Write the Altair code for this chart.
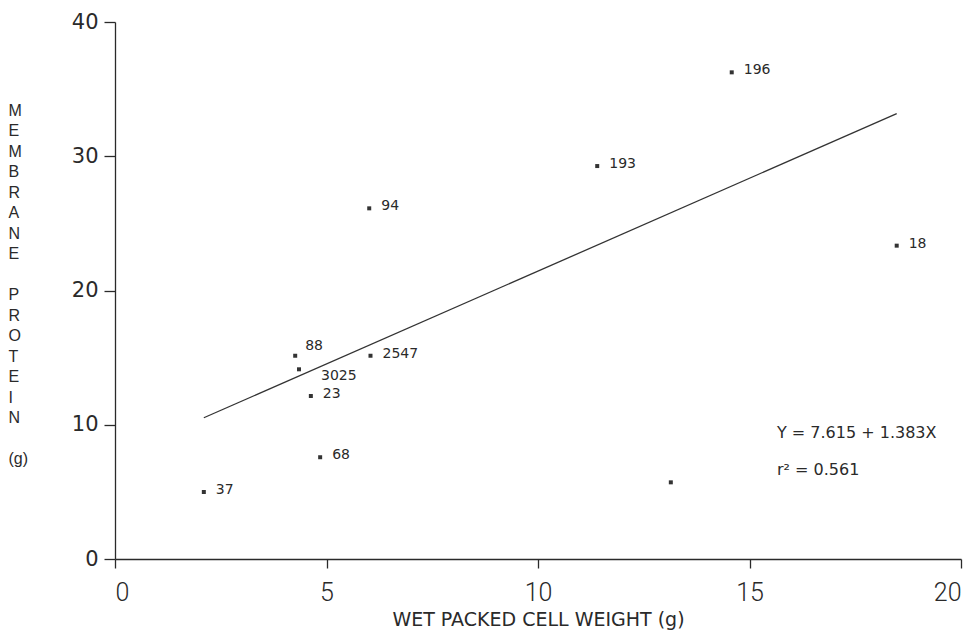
import altair as alt
import pandas as pd

# ---- data ----
strain_labels = ["37", "88", "3025", "23", "68", "2547", "94", "193", "196", "18", ""]
cell_weight = [2.10, 4.26, 4.35, 4.63, 4.85, 6.04, 6.01, 11.40, 14.58, 18.48, 13.14]
membrane_protein = [4.99, 15.14, 14.13, 12.14, 7.58, 15.14, 26.12, 29.27, 36.25, 23.34, 5.71]

x_ticks = [0, 5, 10, 15, 20]
y_ticks = [0, 10, 20, 30, 40]

intercept = 7.615
slope = 1.383
r_squared = 0.561

equation_lines = ["Y = 7.615 + 1.383X", "r\u00b2 = 0.561"]
equation_x = [15.65, 15.65]
equation_y = [9.4, 6.65]

GAP = "\u200b"
y_title = ["M", "E", "M", "B", "R", "A", "N", "E", GAP, "P", "R", "O", "T", "E", "I", "N", GAP, "(g)"]
x_title = "WET PACKED CELL WEIGHT (g)"

# ---- tables ----
pts = pd.DataFrame({"x": cell_weight, "y": membrane_protein, "label": strain_labels})
x_lo, x_hi = min(cell_weight), max(cell_weight)
fit = pd.DataFrame({"x": [x_lo, x_hi], "y": [intercept + slope * x_lo, intercept + slope * x_hi]})
eq = pd.DataFrame({"x": equation_x, "y": equation_y, "t": equation_lines})

INK = "#2a2a2a"

xs = alt.Scale(domain=[0, 20], nice=False, zero=True)
ys = alt.Scale(domain=[0, 40], nice=False, zero=True)

x_axis = alt.Axis(
    values=x_ticks, grid=False, title=x_title,
    domainColor=INK, domainWidth=1.3, tickColor=INK, tickWidth=1.3, tickSize=9,
    labelFont="Roboto", labelFontSize=25, labelColor=INK,
    labelPadding=12, labelFontWeight=300,
    titleFont="DejaVu Sans", titleFontSize=19, titleFontWeight="normal", titleColor=INK,
    titleY=51, titleBaseline="top",
)
y_axis = alt.Axis(
    values=y_ticks, grid=False, title=y_title,
    domainColor=INK, domainWidth=1.3, tickColor=INK, tickWidth=1.3, tickSize=11,
    labelFont="DejaVu Sans", labelFontSize=21, labelColor=INK, labelPadding=6,
    titleFont="Liberation Sans", titleFontSize=16, titleFontWeight="normal", titleColor=INK,
    titleAngle=0, titleAlign="left", titleBaseline="top", titleLineHeight=20.5,
    titleX=-107, titleY=80,
)

base = alt.Chart(pts)

points = base.mark_square(size=16, color="#333333", opacity=1).encode(
    x=alt.X("x:Q", scale=xs, axis=x_axis),
    y=alt.Y("y:Q", scale=ys, axis=y_axis),
)

label_style = dict(font="DejaVu Sans", fontSize=14, color=INK, align="left", baseline="middle")

labels_main = base.transform_filter(
    "datum.label != '88' && datum.label != '3025'"
).mark_text(dx=12, dy=-2, **label_style).encode(
    x=alt.X("x:Q", scale=xs), y=alt.Y("y:Q", scale=ys), text="label:N"
)
labels_88 = base.transform_filter("datum.label == '88'").mark_text(
    dx=10, dy=-10, **label_style
).encode(x=alt.X("x:Q", scale=xs), y=alt.Y("y:Q", scale=ys), text="label:N")
labels_3025 = base.transform_filter("datum.label == '3025'").mark_text(
    dx=22, dy=7, **label_style
).encode(x=alt.X("x:Q", scale=xs), y=alt.Y("y:Q", scale=ys), text="label:N")

line = alt.Chart(fit).mark_line(color="#333333", strokeWidth=1.3).encode(
    x=alt.X("x:Q", scale=xs), y=alt.Y("y:Q", scale=ys)
)

eq_text = alt.Chart(eq).mark_text(
    font="DejaVu Sans", fontSize=16, color=INK, align="left", baseline="middle"
).encode(x=alt.X("x:Q", scale=xs), y=alt.Y("y:Q", scale=ys), text="t:N")

chart = alt.layer(line, points, labels_main, labels_88, labels_3025, eq_text).properties(
    width=846, height=537,
    autosize=alt.AutoSizeParams(type="none"),
    padding={"left": 107, "top": 14, "right": 10, "bottom": 72},
    background="white",
).configure_view(stroke=None)

chart.save("out.html", embed_options={"renderer": "svg", "actions": False})
